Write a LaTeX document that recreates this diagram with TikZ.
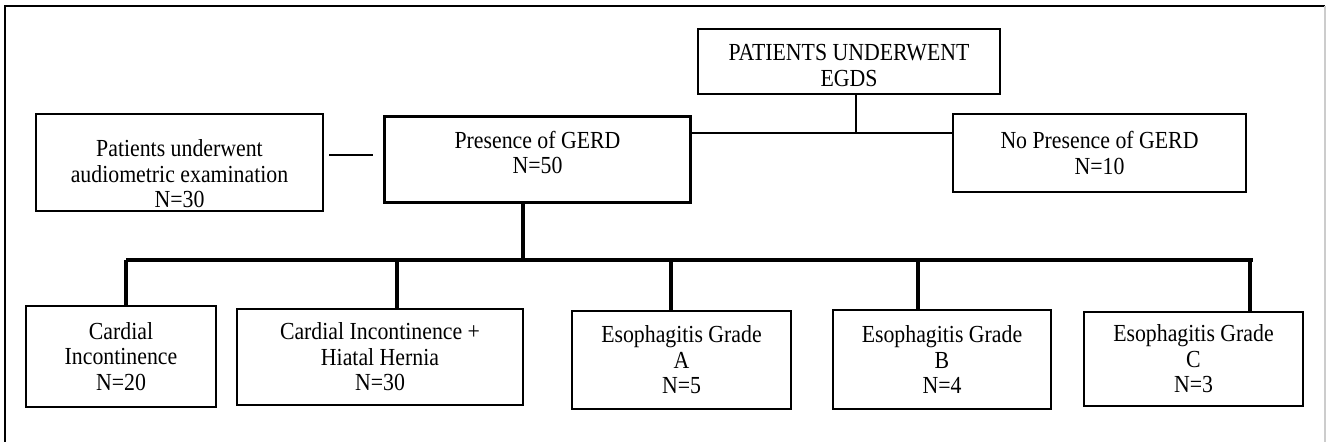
\documentclass[tikz,border=0pt]{standalone}
\usepackage{fontspec}
\setmainfont{Liberation Serif}[FakeStretch=0.89]
\begin{document}
\begin{tikzpicture}
[x=1pt,y=-1pt,
  boxdecorate/.style={draw,line width=1.2pt,inner sep=0pt,align=center,
    font=\fontsize{24.5}{25.5}\selectfont},%
  boxtext/.style={align=center,inner sep=0pt,font=\fontsize{24.5}{25.5}\selectfont},%
  linedecorate/.style={line width=1.1pt},%
  busdecorate/.style={line width=3.6pt}]
\useasboundingbox (0,0) rectangle (1326,442);
% frame
\draw[line width=1.8pt] (5,442) -- (5,6) -- (1325,6);
\draw[gray!40,line width=1.2pt] (1325,6) -- (1325,442);
% nodes or boxes
\node (egds) at (849,61.5) [boxdecorate,minimum width=302pt,minimum height=65pt,
  label={[boxtext,yshift=-4pt]center:PATIENTS UNDERWENT\\EGDS}] {};
\node (audio) at (179.5,162.5) [boxdecorate,minimum width=287pt,minimum height=97pt,
  label={[boxtext,yshift=-11.5pt]center:Patients underwent\\audiometric examination\\N=30}] {};
\node (pres) at (537.5,159.5) [boxdecorate,line width=3.3pt,minimum width=306pt,minimum height=86pt,
  label={[boxtext,yshift=7pt]center:Presence of GERD\\N=50}] {};
\node (nopres) at (1099.5,153) [boxdecorate,minimum width=293pt,minimum height=78pt]
  {No Presence of GERD\\N=10};
\node (card) at (121,356.5) [boxdecorate,minimum width=190pt,minimum height=101pt]
  {Cardial\\Incontinence\\N=20};
\node (cihh) at (380,357) [boxdecorate,minimum width=286pt,minimum height=96pt]
  {Cardial Incontinence +\\Hiatal Hernia\\N=30};
\node (esa) at (681.5,360) [boxdecorate,minimum width=219pt,minimum height=98pt]
  {Esophagitis Grade\\A\\N=5};
\node (esb) at (942,359.5) [boxdecorate,minimum width=218pt,minimum height=99pt]
  {Esophagitis Grade\\B\\N=4};
\node (esc) at (1193.5,359) [boxdecorate,minimum width=219pt,minimum height=94pt]
  {Esophagitis Grade\\C\\N=3};
% joints
\coordinate (j1) at (856,133);
\coordinate (a1) at (329,155);
\coordinate (a2) at (373,155);
\coordinate (pdrop) at (523,260);
\coordinate (busL) at (126,260);
\coordinate (busR) at (1253,260);
% edges or lines
\draw[linedecorate] (j1 |- egds.south) -- (j1);
\draw[linedecorate] (pres.east |- j1) -- (nopres.west |- j1);
\draw[linedecorate] (a1) -- (a2);
\draw[busdecorate] (pdrop |- pres.south) -- (pdrop);
\draw[busdecorate] (busL) -- (busR);
\foreach \x/\b in {126/card,397/cihh,671/esa,918/esb,1250/esc}
  \draw[busdecorate] (\x,260) -- (\x,260 |- \b.north);
\end{tikzpicture}
\end{document}
